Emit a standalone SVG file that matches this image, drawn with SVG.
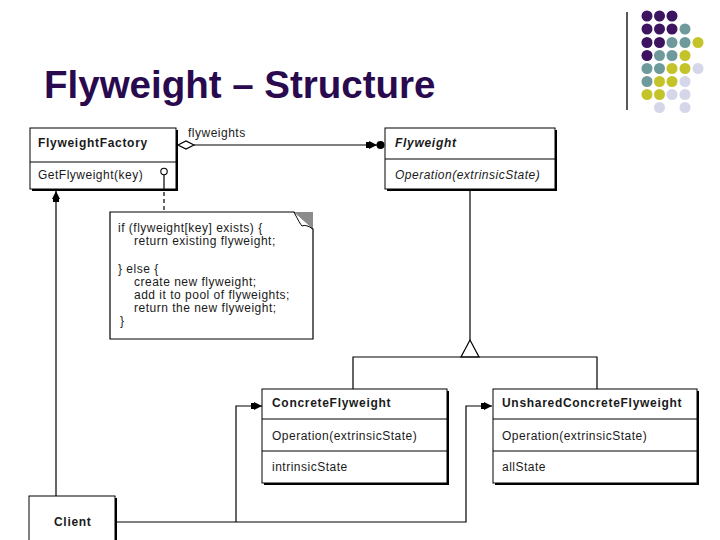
<svg xmlns="http://www.w3.org/2000/svg" width="720" height="540" viewBox="0 0 720 540">
<style>
.t{font-family:"Liberation Sans",Arial,Helvetica,sans-serif;font-size:12px;letter-spacing:0.5px;fill:#1a1a1a}
.b{font-weight:bold;letter-spacing:0.7px}
.i{font-style:italic}
.box{fill:#fff;stroke:#000;stroke-width:1}
.sh{fill:#000}
.ln{fill:none;stroke:#000;stroke-width:1.2}
.pu{fill:#3d1460}.te{fill:#6e9a9c}.ye{fill:#c4c42a}.la{fill:#d6d6ea}
</style>
<defs>
<marker id="arr" viewBox="0 0 11 8" refX="11" refY="4" markerWidth="11" markerHeight="8" markerUnits="userSpaceOnUse" orient="auto">
<path d="M0,1 L3,1 L3,0 L11,4 L3,8 L3,7 L0,7 z" fill="#000"/>
</marker>
</defs>
<rect width="720" height="540" fill="#fff"/>

<g id="decor">
<line x1="627" y1="12" x2="627" y2="110" stroke="#222" stroke-width="1.5"/>
<circle class="pu" cx="647" cy="16" r="5.5"/><circle class="pu" cx="659.5" cy="16" r="5.5"/><circle class="pu" cx="672" cy="16" r="5.5"/>
<circle class="pu" cx="647" cy="29" r="5.5"/><circle class="pu" cx="659.5" cy="29" r="5.5"/><circle class="pu" cx="672" cy="29" r="5.5"/><circle class="te" cx="685" cy="29" r="5.5"/>
<circle class="pu" cx="647" cy="42.5" r="5.5"/><circle class="pu" cx="659.5" cy="42.5" r="5.5"/><circle class="te" cx="672" cy="42.5" r="5.5"/><circle class="te" cx="685" cy="42.5" r="5.5"/><circle class="ye" cx="698" cy="42.5" r="5.5"/>
<circle class="pu" cx="647" cy="55.5" r="5.5"/><circle class="te" cx="659.5" cy="55.5" r="5.5"/><circle class="te" cx="672" cy="55.5" r="5.5"/><circle class="ye" cx="685" cy="55.5" r="5.5"/>
<circle class="te" cx="647" cy="68.5" r="5.5"/><circle class="te" cx="659.5" cy="68.5" r="5.5"/><circle class="ye" cx="672" cy="68.5" r="5.5"/><circle class="ye" cx="685" cy="68.5" r="5.5"/><circle class="la" cx="698" cy="68.5" r="5.5"/>
<circle class="te" cx="647" cy="81.5" r="5.5"/><circle class="ye" cx="659.5" cy="81.5" r="5.5"/><circle class="ye" cx="672" cy="81.5" r="5.5"/><circle class="la" cx="685" cy="81.5" r="5.5"/>
<circle class="ye" cx="647" cy="94.5" r="5.5"/><circle class="ye" cx="659.5" cy="94.5" r="5.5"/><circle class="la" cx="672" cy="94.5" r="5.5"/><circle class="la" cx="685" cy="94.5" r="5.5"/>
<circle class="la" cx="659.5" cy="107.5" r="5.5"/><circle class="la" cx="685" cy="107.5" r="5.5"/>
</g>

<text id="title" x="44" y="98" font-family="Liberation Sans,Arial,sans-serif" font-size="38.5" font-weight="bold" fill="#2a0a4e">Flyweight – Structure</text>

<g id="FlyweightFactory">
<rect class="sh" x="32" y="130" width="146" height="61"/>
<rect class="box" x="30" y="128" width="146" height="61"/>
<line class="ln" x1="30" y1="162" x2="176" y2="162"/>
<text class="t b" x="38" y="147">FlyweightFactory</text>
<text class="t" x="38" y="179">GetFlyweight(key)</text>
</g>

<g id="Flyweight">
<rect class="sh" x="387" y="130" width="170" height="61"/>
<rect class="box" x="385" y="128" width="170" height="61"/>
<line class="ln" x1="385" y1="159" x2="555" y2="159"/>
<text class="t b i" x="395" y="147">Flyweight</text>
<text class="t i" x="395" y="179">Operation(extrinsicState)</text>
</g>

<g id="note">
<path d="M110,212 L294,212 L313,229 L313,339 L110,339 Z" fill="#fff" stroke="#000" stroke-width="1.2"/>
<path d="M294,212 L313,212 L313,229 Z" fill="#8c8c8c"/>
<path d="M294,212 Q300,224 302,226 Q306,224 313,229" fill="#fff" stroke="#000" stroke-width="1"/>
<text class="t" x="118" y="232">if (flyweight[key] exists) {</text>
<text class="t" x="134" y="245">return existing flyweight;</text>
<text class="t" x="118" y="273">} else {</text>
<text class="t" x="134" y="286">create new flyweight;</text>
<text class="t" x="134" y="299">add it to pool of flyweights;</text>
<text class="t" x="134" y="312">return the new flyweight;</text>
<text class="t" x="120" y="325">}</text>
</g>

<g id="ConcreteFlyweight">
<rect class="sh" x="264" y="391" width="185" height="94"/>
<rect class="box" x="262" y="389" width="185" height="94"/>
<line class="ln" x1="262" y1="419" x2="447" y2="419"/>
<line class="ln" x1="262" y1="451" x2="447" y2="451"/>
<text class="t b" x="272" y="407">ConcreteFlyweight</text>
<text class="t" x="272" y="440">Operation(extrinsicState)</text>
<text class="t" x="272" y="471">intrinsicState</text>
</g>

<g id="UnsharedConcreteFlyweight">
<rect class="sh" x="495" y="391" width="204" height="94"/>
<rect class="box" x="493" y="389" width="204" height="94"/>
<line class="ln" x1="493" y1="419" x2="697" y2="419"/>
<line class="ln" x1="493" y1="451" x2="697" y2="451"/>
<text class="t b" x="502" y="407">UnsharedConcreteFlyweight</text>
<text class="t" x="502" y="440">Operation(extrinsicState)</text>
<text class="t" x="502" y="471">allState</text>
</g>

<g id="Client">
<rect class="sh" x="31" y="498" width="86" height="60"/>
<rect class="box" x="29" y="496" width="86" height="60"/>
<text class="t b" x="54" y="526">Client</text>
</g>

<g id="connectors">
<polygon points="178,145 186,141 194,145 186,149" fill="#fff" stroke="#000" stroke-width="1.2"/>
<line class="ln" x1="194" y1="145" x2="377" y2="145" marker-end="url(#arr)"/>
<circle cx="380.5" cy="145" r="4" fill="#000"/>
<text class="t" x="188" y="137">flyweights</text>
<circle cx="164" cy="171.5" r="3.2" fill="#fff" stroke="#000" stroke-width="1.1"/>
<line class="ln" x1="164" y1="174.7" x2="164" y2="189"/>
<line class="ln" x1="164" y1="192" x2="164" y2="212" stroke-dasharray="4,3"/>
<line class="ln" x1="470" y1="191" x2="470" y2="340"/>
<polygon points="470,340 461,357 479,357" fill="#fff" stroke="#000" stroke-width="1.2"/>
<polyline class="ln" points="353,389 353,357 597,357 597,389"/>
<line class="ln" x1="56" y1="496" x2="56" y2="191" marker-end="url(#arr)"/>
<polyline class="ln" points="117,522 466,522 466,406 492,406" marker-end="url(#arr)"/>
<polyline class="ln" points="236,522 236,406 262,406" marker-end="url(#arr)"/>
</g>
</svg>
